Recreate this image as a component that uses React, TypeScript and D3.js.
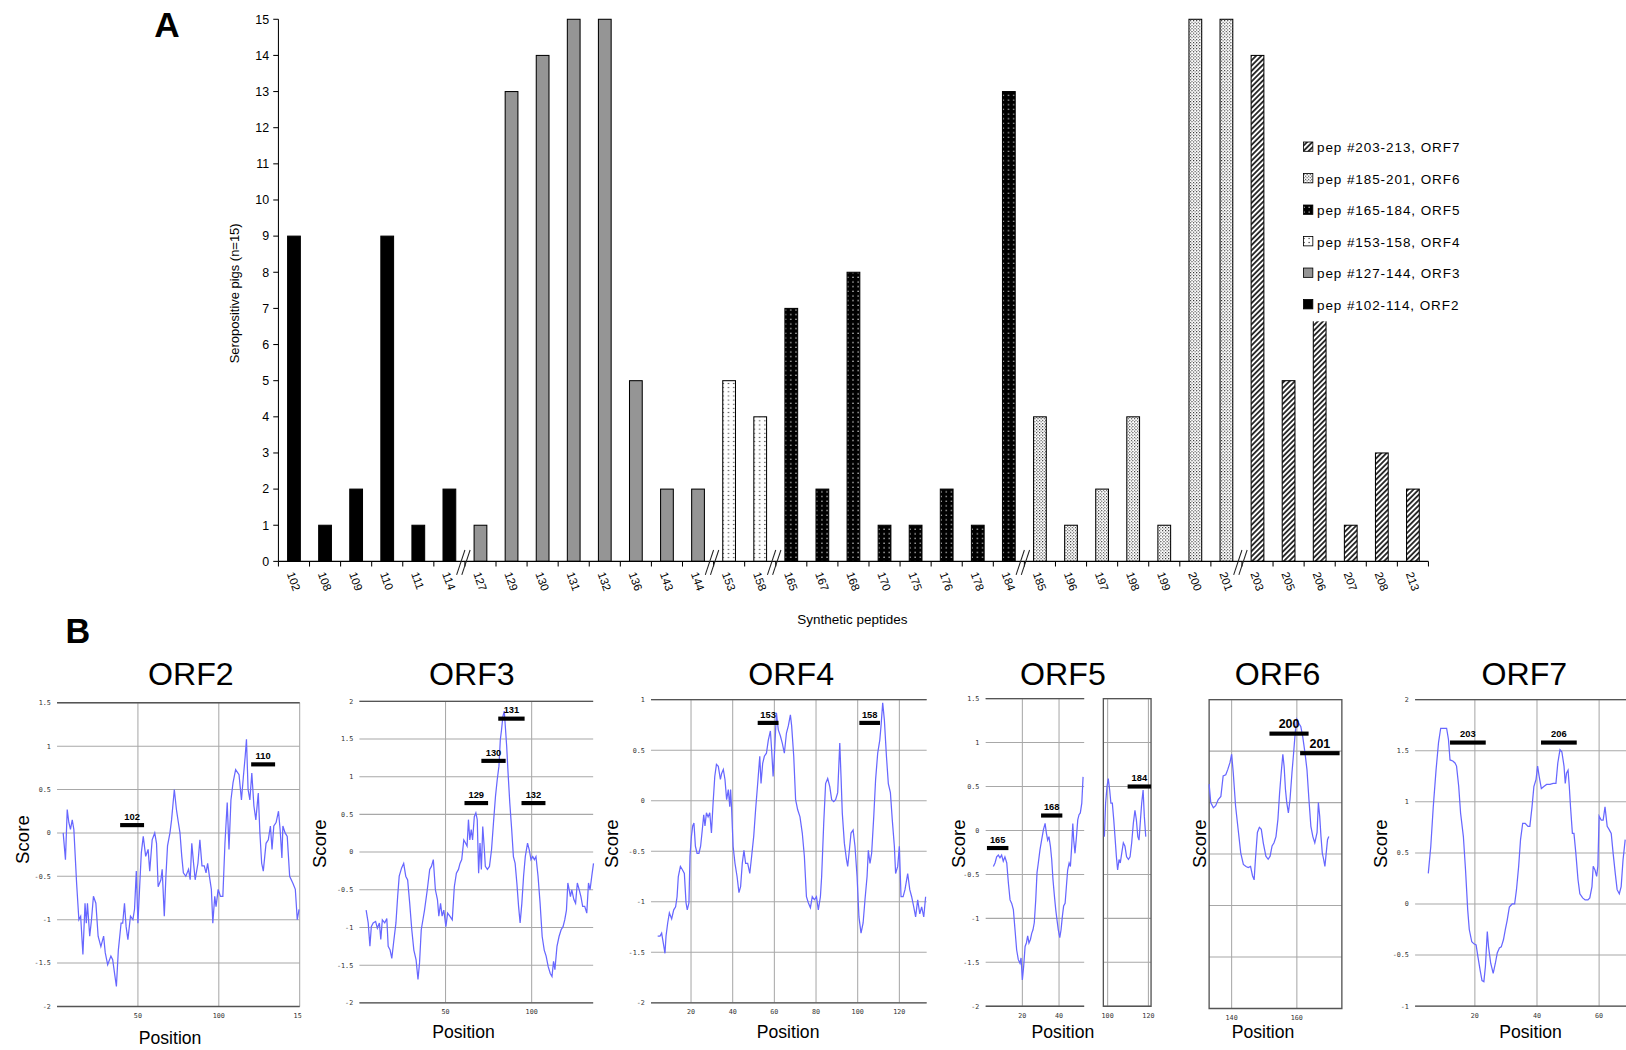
import React, { useRef, useEffect } from "react";
import * as d3 from "d3";

// ---- panel A: seropositive pigs per synthetic peptide ----
const peptides = [
  "102", "108", "109", "110", "111", "114", "127", "129", "130", "131", "132",
  "136", "143", "144", "153", "158", "165", "167", "168", "170", "175", "176",
  "178", "184", "185", "196", "197", "198", "199", "200", "201", "203", "205",
  "206", "207", "208", "213",
];
const seropositive = [
  9, 1, 2, 9, 1, 2, 1, 13, 14, 15, 15, 5, 2, 2, 5, 4, 7, 2, 8, 1, 1, 2, 1, 13,
  4, 1, 2, 4, 1, 15, 15, 14, 5, 7, 1, 3, 2,
];

const orfNames = ["ORF2", "ORF3", "ORF4", "ORF5", "ORF6", "ORF7"];
const orfFirstPep = [102, 127, 153, 165, 185, 203];
const orfLastPep = [114, 144, 158, 184, 201, 213];
const yTicksA = d3.range(0, 16);

// ---- panel B: antigenicity profiles, [position, score] ----
const orf2Profile: [number, number][] = [
  [3.8, 0], [5.2, -0.31], [6.3, 0.27], [7.3, 0.12], [8.3, 0.04], [9.4, 0.15],
  [10.4, 0.04], [12.1, -0.58], [13.5, -1.0], [14.6, -0.96], [16.0, -1.4],
  [17.3, -0.81], [18.1, -1.04], [18.8, -0.81], [20.2, -1.19], [21.3, -1.0],
  [22.5, -0.73], [24.0, -0.81], [25.4, -1.19], [27.1, -1.31], [28.8, -1.19],
  [29.8, -1.38], [31.3, -1.52], [33.3, -1.42], [34.4, -1.46], [35.8, -1.65],
  [36.7, -1.77], [37.9, -1.35], [39.6, -1.04], [40.6, -1.04], [41.7, -0.81],
  [42.7, -1.08], [43.8, -1.23], [45.4, -0.96], [46.9, -1.0], [47.9, -0.88],
  [49.0, -0.44], [50.0, -1.04], [51.0, -0.65], [52.1, -0.23], [53.3, -0.04],
  [54.8, -0.27], [56.3, -0.19], [57.3, -0.44], [58.8, -0.08], [60.4, 0],
  [61.5, -0.12], [62.5, -0.62], [64.2, -0.54], [65.0, -0.42], [66.3, -0.96],
  [67.3, -0.5], [68.3, -0.15], [69.8, 0], [70.8, 0.15], [72.5, 0.5],
  [73.8, 0.27], [75.0, 0.12], [76.0, 0], [77.1, -0.27], [78.1, -0.46],
  [79.6, -0.5], [81.3, -0.42], [82.3, -0.54], [83.3, -0.12], [84.4, -0.35],
  [85.4, -0.54], [87.1, -0.35], [88.3, -0.08], [89.6, -0.38], [91.0, -0.38],
  [92.1, -0.46], [93.1, -0.35], [94.2, -0.5], [95.4, -0.65], [96.3, -1.04],
  [97.5, -0.73], [98.3, -0.85], [99.6, -0.65], [101.0, -0.73], [102.5, -0.73],
  [103.8, -0.12], [105.2, 0.35], [106.3, -0.19], [107.5, 0.38], [108.8, 0.58],
  [110.4, 0.73], [112.5, 0.67], [114.0, 0.38], [115.2, 0.65], [116.3, 0.88],
  [117.1, 1.08], [118.1, 0.5], [119.2, 0.38], [120.4, 0.69], [121.7, 0.31],
  [122.9, 0.15], [124.4, 0.46], [125.4, 0], [126.5, -0.35], [127.5, -0.44],
  [129.2, -0.12], [130.6, -0.08], [131.9, 0.08], [132.9, -0.19], [134.0, 0.08],
  [135.4, 0.12], [136.9, 0.25], [137.9, 0.04], [139.0, -0.29], [139.6, 0.08],
  [141.0, 0], [142.3, -0.04], [143.8, -0.5], [145.8, -0.58], [147.3, -0.65],
  [148.5, -1.0], [149.6, -0.88],
];

const orf3Profile: [number, number][] = [
  [3.9, -0.77], [5.1, -0.94], [6.1, -1.25], [6.9, -0.99], [8.0, -0.94],
  [9.4, -0.92], [10.4, -1.01], [11.6, -0.94], [12.4, -1.16], [13.3, -0.9],
  [14.7, -0.94], [15.9, -0.88], [16.7, -1.25], [17.8, -1.3], [18.8, -1.41],
  [19.8, -1.21], [21.2, -0.94], [22.2, -0.59], [23.1, -0.32], [24.5, -0.21],
  [25.7, -0.15], [26.9, -0.32], [28.0, -0.37], [29.2, -0.68], [30.4, -1.03],
  [31.6, -1.3], [32.9, -1.43], [34.0, -1.69], [34.9, -1.47], [35.9, -1.03],
  [37.8, -0.77], [39.4, -0.5], [40.8, -0.23], [41.8, -0.19], [42.9, -0.1],
  [44.1, -0.5], [45.3, -0.63], [46.1, -0.85], [47.1, -0.68], [48.0, -0.85],
  [49.0, -0.77], [50.2, -0.99], [51.2, -0.81], [52.5, -0.85], [53.9, -0.9],
  [55.1, -0.46], [56.3, -0.28], [57.5, -0.23], [58.4, -0.15], [59.4, -0.1],
  [60.6, 0.16], [61.6, 0.12], [62.5, 0.08], [63.3, 0.43], [64.1, 0.16],
  [64.9, 0.3], [65.7, 0.16], [66.7, 0.47], [67.6, 0.52], [68.4, 0.43],
  [69.2, -0.28], [70.0, 0.12], [70.8, -0.23], [71.6, 0.34], [72.4, 0.08],
  [73.1, -0.19], [74.3, -0.23], [75.5, -0.19], [76.7, 0.03], [77.8, 0.38],
  [79.0, 0.74], [80.0, 0.96], [81.0, 1.14], [81.8, 1.49], [82.5, 1.62],
  [83.3, 1.8], [84.1, 1.87], [84.7, 1.67], [85.5, 1.4], [86.3, 1.05],
  [87.3, 0.65], [88.4, 0.3], [89.4, -0.06], [90.4, -0.15], [91.4, -0.41],
  [92.4, -0.72], [93.3, -0.94], [94.3, -0.68], [95.3, -0.32], [96.3, -0.06],
  [97.6, 0.12], [98.6, 0.03], [99.6, -0.1], [100.6, -0.06], [101.6, -0.1],
  [102.5, -0.06], [103.7, -0.32], [104.9, -0.68], [106.1, -1.12], [107.3, -1.3],
  [108.4, -1.38], [109.6, -1.52], [110.8, -1.61], [111.8, -1.65], [112.7, -1.45],
  [113.5, -1.56], [114.7, -1.25], [115.9, -1.12], [117.1, -1.03], [118.2, -0.99],
  [119.2, -0.9], [120.2, -0.77], [121.0, -0.41], [121.8, -0.5], [122.5, -0.59],
  [123.3, -0.5], [124.5, -0.63], [125.5, -0.68], [126.5, -0.41], [127.6, -0.5],
  [128.6, -0.59], [129.6, -0.72], [130.8, -0.72], [132.0, -0.81], [133.0, -0.41],
  [133.9, -0.5], [134.9, -0.32], [135.9, -0.15],
];

const orf4Profile: [number, number][] = [
  [4.0, -1.34], [5.1, -1.34], [5.9, -1.31], [6.7, -1.41], [7.5, -1.51],
  [8.0, -1.34], [8.8, -1.21], [9.6, -1.11], [10.7, -1.17], [11.7, -1.08],
  [12.6, -1.05], [13.3, -0.95], [13.9, -0.75], [14.9, -0.65], [15.8, -0.68],
  [16.8, -0.72], [17.6, -1.01], [18.2, -1.08], [19.0, -1.01], [19.5, -0.55],
  [20.2, -0.35], [20.8, -0.25], [21.4, -0.22], [22.1, -0.45], [22.9, -0.52],
  [23.8, -0.52], [24.6, -0.45], [25.4, -0.29], [26.1, -0.14], [26.7, -0.25],
  [27.4, -0.12], [28.2, -0.16], [29.0, -0.12], [29.8, -0.32], [30.6, -0.02],
  [31.4, 0.24], [32.2, 0.36], [33.1, 0.34], [34.1, 0.21], [34.7, 0.27],
  [35.5, 0.31], [36.3, 0.21], [37.1, 0.01], [37.9, 0.11], [38.6, -0.06],
  [39.0, 0.11], [39.5, -0.09], [40.2, -0.45], [41.1, -0.62], [42.1, -0.75],
  [43.0, -0.91], [43.8, -0.85], [44.6, -0.62], [45.4, -0.49], [46.2, -0.62],
  [47.2, -0.62], [48.2, -0.72], [49.1, -0.55], [50.1, -0.35], [51.0, -0.09],
  [52.0, 0.17], [53.0, 0.44], [53.6, 0.17], [54.4, 0.37], [55.2, 0.44],
  [56.2, 0.47], [57.1, 0.6], [58.1, 0.69], [58.7, 0.5], [59.4, 0.24],
  [60.0, 0.44], [61.0, 0.87], [61.9, 0.7], [62.9, 0.64], [63.8, 0.57],
  [64.8, 0.47], [65.8, 0.67], [66.7, 0.74], [67.7, 0.85], [68.3, 0.74],
  [69.3, 0.44], [70.2, 0.01], [71.2, -0.09], [72.3, -0.16], [73.4, -0.32],
  [74.4, -0.55], [75.4, -0.95], [76.3, -1.01], [77.3, -1.06], [78.2, -0.95],
  [79.2, -0.98], [80.2, -0.95], [81.1, -1.08], [82.1, -0.95], [82.7, -0.75],
  [83.7, -0.22], [84.6, 0.17], [85.6, 0.22], [86.6, 0.14], [87.5, 0.01],
  [88.5, -0.01], [89.4, 0.01], [90.4, 0.08], [91.4, 0.57], [92.0, 0.24],
  [92.6, -0.12], [93.6, -0.42], [94.6, -0.58], [95.2, -0.65], [96.0, -0.49],
  [96.8, -0.32], [97.8, -0.29], [98.7, -0.45], [99.7, -0.75], [100.6, -1.15],
  [101.6, -1.31], [102.6, -1.21], [103.5, -0.98], [104.5, -0.75], [105.1, -0.49],
  [105.9, -0.62], [106.7, -0.52], [107.7, -0.16], [108.6, 0.21], [109.6, 0.47],
  [110.6, 0.6], [111.2, 0.74], [112.0, 0.97], [112.8, 0.8], [113.8, 0.44],
  [114.7, 0.17], [115.7, 0.08], [116.6, -0.19], [117.6, -0.45], [118.2, -0.72],
  [119.2, -0.65], [120.0, -0.45], [120.8, -0.95], [121.8, -0.95], [122.7, -0.88],
  [124.0, -0.72], [125.0, -0.88], [125.9, -0.95], [126.9, -1.05], [127.8, -1.15],
  [128.8, -0.98], [129.8, -1.12], [130.7, -1.05], [131.7, -1.15], [132.6, -0.95],
];

const orf5Profile: [number, number][] = [
  [4.2, -0.41], [5.1, -0.37], [6.0, -0.3], [6.9, -0.28], [7.8, -0.31],
  [8.7, -0.28], [9.6, -0.35], [10.5, -0.3], [11.5, -0.37], [12.4, -0.6],
  [13.3, -0.79], [14.2, -0.83], [15.1, -0.9], [16.0, -1.13], [16.9, -1.36],
  [17.8, -1.47], [18.7, -1.51], [19.3, -1.45], [20.0, -1.7], [20.7, -1.55],
  [21.5, -1.32], [22.2, -1.28], [22.9, -1.2], [23.6, -1.28], [24.4, -1.24],
  [25.1, -1.17], [25.8, -1.13], [26.5, -1.05], [27.3, -0.79], [28.0, -0.48],
  [28.7, -0.37], [29.6, -0.22], [30.5, -0.11], [31.5, 0.01], [32.4, 0.08],
  [33.1, -0.03], [33.8, -0.11], [34.5, -0.07], [35.3, -0.18], [36.0, -0.33],
  [36.7, -0.56], [37.5, -0.75], [38.2, -0.9], [38.9, -1.02], [39.6, -1.13],
  [40.4, -1.22], [41.1, -1.13], [41.8, -0.98], [42.5, -0.86], [43.3, -0.83],
  [44.0, -0.64], [44.7, -0.45], [45.5, -0.37], [46.2, -0.41], [46.9, -0.18],
  [47.5, 0.08], [48.0, -0.11], [48.7, -0.26], [49.5, -0.07], [50.2, 0.12],
  [50.9, 0.18], [51.6, 0.2], [52.4, 0.31], [53.1, 0.61],
];

const orf5TailProfile: [number, number][] = [
  [98.4, -0.07], [99.0, 0.31], [99.7, 0.5], [100.3, 0.59], [101.0, 0.46],
  [101.6, 0.31], [102.3, 0.31], [103.0, 0.12], [103.6, -0.07], [104.3, -0.3],
  [104.9, -0.45], [105.6, -0.33], [106.2, -0.37], [106.9, -0.26], [107.7, -0.14],
  [108.5, -0.18], [109.3, -0.3], [110.2, -0.33], [111.0, -0.3], [111.8, -0.14],
  [112.6, 0.08], [113.4, 0.23], [114.1, 0.12], [114.8, -0.07], [115.4, -0.11],
  [116.1, 0.12], [116.7, 0.31], [117.4, 0.46], [118.0, 0.16], [118.7, -0.07],
];

const orf6Profile: [number, number][] = [
  [133.1, 0.18], [133.6, 0], [134.4, -0.05], [135.1, -0.03], [135.9, 0.03],
  [136.7, 0.06], [137.4, 0.26], [138.2, 0.27], [138.8, 0.32], [139.5, 0.39],
  [140.0, 0.47], [140.5, 0.29], [141.2, -0.03], [142.1, -0.29], [142.8, -0.49],
  [143.6, -0.6], [144.4, -0.62], [145.1, -0.63], [145.8, -0.62], [146.4, -0.71],
  [146.9, -0.75], [147.3, -0.55], [147.9, -0.29], [148.5, -0.24], [149.1, -0.26],
  [149.7, -0.39], [150.5, -0.52], [151.2, -0.55], [151.8, -0.52], [152.4, -0.42],
  [153.0, -0.39], [153.6, -0.33], [154.2, -0.16], [154.7, 0.09], [155.2, 0.29],
  [155.7, 0.47], [156.1, 0.35], [156.5, 0.13], [156.9, 0], [157.4, -0.1],
  [157.9, 0.03], [158.5, 0.29], [159.0, 0.48], [159.5, 0.68], [160.0, 0.81],
  [160.6, 0.77], [161.2, 0.74], [161.8, 0.64], [162.5, 0.48], [163.1, 0.32],
  [163.7, 0.03], [164.3, -0.23], [164.9, -0.33], [165.5, -0.39], [166.2, -0.29],
  [166.6, 0], [167.0, -0.13], [167.4, -0.33], [167.8, -0.49], [168.2, -0.55],
  [168.6, -0.62], [169.0, -0.49], [169.4, -0.36], [169.8, -0.33],
];

const orf7Profile: [number, number][] = [
  [5.0, 0.3], [5.8, 0.56], [6.6, 0.95], [7.5, 1.31], [8.3, 1.58], [9.0, 1.72],
  [9.9, 1.72], [10.9, 1.72], [11.5, 1.61], [12.0, 1.41], [12.9, 1.4],
  [13.6, 1.38], [14.1, 1.35], [14.8, 1.15], [15.4, 0.89], [16.3, 0.66],
  [17.0, 0.33], [17.7, -0.06], [18.2, -0.25], [19.0, -0.37], [19.7, -0.39],
  [20.4, -0.4], [21.0, -0.52], [21.7, -0.65], [22.3, -0.75], [22.9, -0.76],
  [23.4, -0.61], [24.0, -0.27], [24.4, -0.42], [25.1, -0.58], [25.9, -0.68],
  [26.6, -0.58], [27.2, -0.48], [27.9, -0.43], [28.5, -0.42], [29.2, -0.35],
  [29.8, -0.25], [30.4, -0.16], [31.1, -0.03], [32.0, 0], [32.8, 0],
  [33.4, 0.14], [34.1, 0.37], [34.7, 0.63], [35.4, 0.79], [36.2, 0.79],
  [37.1, 0.76], [37.7, 0.76], [38.4, 0.95], [39.0, 1.15], [39.7, 1.22],
  [40.2, 1.35], [40.7, 1.25], [41.4, 1.13], [42.2, 1.15], [43.1, 1.17],
  [44.2, 1.17], [45.2, 1.18], [46.1, 1.18], [46.7, 1.38], [47.4, 1.51],
  [48.0, 1.49], [48.7, 1.35], [49.1, 1.18], [49.5, 1.28], [50.0, 1.31],
  [50.4, 1.15], [50.8, 0.95], [51.4, 0.69], [51.9, 0.69], [52.5, 0.5],
  [53.2, 0.24], [53.8, 0.1], [54.7, 0.06], [55.5, 0.04], [56.4, 0.04],
  [57.0, 0.06], [57.7, 0.17], [58.1, 0.37], [58.7, 0.33], [59.2, 0.27],
  [59.6, 0.37], [60.0, 0.86], [60.7, 0.82], [61.3, 0.82], [61.9, 0.95],
  [62.6, 0.76], [63.2, 0.73], [63.9, 0.69], [64.5, 0.5], [65.2, 0.3],
  [65.8, 0.14], [66.5, 0.1], [67.1, 0.17], [67.7, 0.43], [68.4, 0.63],
];

// peptide positions marked on the profiles
const orf2Peptides = [
  { label: "102", from: 39, to: 53.8, score: 0.09 },
  { label: "110", from: 120, to: 134.8, score: 0.79 },
];
const orf3Peptides = [
  { label: "129", from: 61, to: 74.7, score: 0.65 },
  { label: "130", from: 70.8, to: 84.9, score: 1.21 },
  { label: "131", from: 80.6, to: 95.9, score: 1.77 },
  { label: "132", from: 94.1, to: 108, score: 0.65 },
];
const orf4Peptides = [
  { label: "153", from: 52, to: 62, score: 0.77 },
  { label: "158", from: 100.8, to: 110.7, score: 0.77 },
];
const orf5Peptides = [
  { label: "165", from: 0.7, to: 12.4, score: -0.2 },
  { label: "168", from: 30.2, to: 41.8, score: 0.17 },
];
const orf5TailPeptides = [{ label: "184", from: 109.8, to: 121.3, score: 0.5 }];
const orf6Peptides = [
  { label: "200", from: 151.6, to: 163.6, score: 0.67 },
  { label: "201", from: 161, to: 173.1, score: 0.48 },
];
const orf7Peptides = [
  { label: "203", from: 12, to: 23.5, score: 1.58 },
  { label: "206", from: 41.3, to: 52.8, score: 1.58 },
];

const panels = [
  { title: "ORF2", titleX: 184, scoreX: 22, posX: 164, posY: 1001, left: 55, right: 289, top: 678, bottom: 971, xDomain: [0, 150], yDomain: [-2, 1.5], xTicks: [50, 100, 150], yLabels: true, rightBorder: false, clipRight: 291, profile: orf2Profile, marks: orf2Peptides, markFont: 9 },
  { title: "ORF3", titleX: 455, scoreX: 308, posX: 447, posY: 995, left: 346.6, right: 572, top: 676.6, bottom: 967.5, xDomain: [0, 135.7], yDomain: [-2, 2], xTicks: [50, 100], yLabels: true, rightBorder: false, clipRight: 574, profile: orf3Profile, marks: orf3Peptides, markFont: 9 },
  { title: "ORF4", titleX: 763, scoreX: 590, posX: 760, posY: 995, left: 627.8, right: 893.6, top: 675, bottom: 967.5, xDomain: [0.8, 133.1], yDomain: [-2, 1], xTicks: [20, 40, 60, 80, 100, 120], yLabels: true, rightBorder: false, clipRight: 896, profile: orf4Profile, marks: orf4Peptides, markFont: 9 },
  { title: "ORF5", titleX: 1025, scoreX: 925, posX: 1025, posY: 995, left: 950.5, right: 1045.5, top: 674, bottom: 970.8, xDomain: [0, 53.7], yDomain: [-2, 1.5], xTicks: [20, 40], yLabels: true, rightBorder: false, clipRight: 1047, profile: orf5Profile, marks: orf5Peptides, markFont: 9 },
  { title: "", titleX: 0, scoreX: 0, posX: 0, posY: 0, left: 1064, right: 1110, top: 674, bottom: 970.8, xDomain: [97.9, 121.3], yDomain: [-2, 1.5], xTicks: [100, 120], yLabels: false, rightBorder: true, clipRight: 1116, profile: orf5TailProfile, marks: orf5TailPeptides, markFont: 9 },
  { title: "ORF6", titleX: 1232, scoreX: 1157, posX: 1218, posY: 995, left: 1166, right: 1294, top: 675, bottom: 973, xDomain: [133.1, 173.8], yDomain: [-2, 1], xTicks: [140, 160], yLabels: false, rightBorder: true, clipRight: 1300, profile: orf6Profile, marks: orf6Peptides, markFont: 12 },
  { title: "ORF7", titleX: 1470, scoreX: 1332, posX: 1476, posY: 995, left: 1364.6, right: 1587, top: 675, bottom: 970.7, xDomain: [0.75, 75], yDomain: [-1, 2], xTicks: [20, 40, 60], yLabels: true, rightBorder: false, clipRight: 1600, profile: orf7Profile, marks: orf7Peptides, markFont: 9 },
];

const font = "Arial, 'Liberation Sans', sans-serif";

export default function App() {
  const svgRef = useRef<SVGSVGElement>(null);

  useEffect(() => {
    if (!svgRef.current) return;
    const svg = d3.select(svgRef.current);
    svg.selectAll("*").remove();
    svg.append("rect").attr("width", 1568).attr("height", 1013).attr("fill", "#fff");

    const defs = svg.append("defs");
    const pattern = (id: string, w: number, h: number, bg: string) => {
      const p = defs
        .append("pattern")
        .attr("id", id)
        .attr("patternUnits", "userSpaceOnUse")
        .attr("width", w)
        .attr("height", h);
      p.append("rect").attr("width", w).attr("height", h).attr("fill", bg);
      return p;
    };
    const p4 = pattern("pat-ORF4", 5, 4, "#fff");
    p4.append("rect").attr("x", 2).attr("y", 1.5).attr("width", 1).attr("height", 1).attr("fill", "#000");
    const p5 = pattern("pat-ORF5", 5, 4.5, "#000");
    p5.append("rect").attr("x", 2).attr("y", 1.5).attr("width", 1.1).attr("height", 1.1).attr("fill", "#fff");
    const p6 = pattern("pat-ORF6", 3, 3, "#fff");
    p6.append("rect").attr("x", 0).attr("y", 0).attr("width", 1).attr("height", 1).attr("fill", "#222");
    p6.append("rect").attr("x", 1.5).attr("y", 1.5).attr("width", 1).attr("height", 1).attr("fill", "#222");
    const p7 = pattern("pat-ORF7", 3.6, 3.6, "#fff").attr("patternTransform", "rotate(45)");
    p7.append("line").attr("x1", 1.8).attr("x2", 1.8).attr("y1", 0).attr("y2", 3.6).attr("stroke", "#000").attr("stroke-width", 1.5);

    const orfFill: Record<string, string> = {
      ORF2: "#000",
      ORF3: "#959595",
      ORF4: "url(#pat-ORF4)",
      ORF5: "url(#pat-ORF5)",
      ORF6: "url(#pat-ORF6)",
      ORF7: "url(#pat-ORF7)",
    };
    const orfOf = (pep: string) => {
      const n = +pep;
      const i = orfFirstPep.findIndex((f, k) => n >= f && n <= orfLastPep[k]);
      return orfNames[i];
    };

    // ---------- A ----------
    const x = d3
      .scaleBand<string>()
      .domain(peptides)
      .range([268.5, 1377.5])
      .paddingInner(0.59)
      .paddingOuter(0.295);
    const y = d3.scaleLinear().domain([0, 15]).range([541.6, 18.6]);
    const x0 = 268.5;
    const step = x.step();

    const gA = svg.append("g");
    gA.append("text")
      .attr("x", 161)
      .attr("y", 36)
      .attr("text-anchor", "middle")
      .attr("font-family", font)
      .attr("font-weight", "bold")
      .attr("font-size", 34)
      .text("A");

    gA.selectAll(".bar")
      .data(peptides)
      .enter()
      .append("rect")
      .attr("x", (d) => x(d) as number)
      .attr("width", x.bandwidth())
      .attr("y", (d, i) => y(seropositive[i]))
      .attr("height", (d, i) => y(0) - y(seropositive[i]))
      .attr("fill", (d) => orfFill[orfOf(d)])
      .attr("stroke", "#000")
      .attr("stroke-width", 1);

    // axes
    gA.append("line").attr("x1", x0).attr("x2", x0).attr("y1", y(0)).attr("y2", y(15)).attr("stroke", "#000");
    gA.append("line").attr("x1", x0).attr("x2", x0 + step * peptides.length).attr("y1", y(0)).attr("y2", y(0)).attr("stroke", "#000");
    yTicksA.forEach((t) => {
      gA.append("line").attr("x1", x0 - 5).attr("x2", x0).attr("y1", y(t)).attr("y2", y(t)).attr("stroke", "#000");
      gA.append("text")
        .attr("x", x0 - 9)
        .attr("y", y(t))
        .attr("dy", "0.35em")
        .attr("text-anchor", "end")
        .attr("font-family", font)
        .attr("font-size", 12)
        .text(t);
    });
    d3.range(peptides.length + 1).forEach((i) => {
      gA.append("line")
        .attr("x1", x0 + i * step)
        .attr("x2", x0 + i * step)
        .attr("y1", y(0))
        .attr("y2", y(0) + 5)
        .attr("stroke", "#000");
    });
    peptides.forEach((p) => {
      const cx = (x(p) as number) + x.bandwidth() / 2;
      gA.append("text")
        .attr("transform", `translate(${cx - 7},${y(0) + 12}) rotate(70)`)
        .attr("font-family", font)
        .attr("font-size", 11)
        .text(p);
    });
    // axis breaks between ORFs
    peptides.forEach((p, i) => {
      if (i === 0 || orfOf(p) === orfOf(peptides[i - 1])) return;
      const bx = x0 + i * step;
      [-4, 1].forEach((o) => {
        gA.append("line")
          .attr("x1", bx + o - 4)
          .attr("y1", y(0) + 13)
          .attr("x2", bx + o + 4)
          .attr("y2", y(0) - 11)
          .attr("stroke", "#222")
          .attr("stroke-width", 1);
      });
    });

    gA.append("text")
      .attr("transform", `translate(230,283) rotate(-90)`)
      .attr("text-anchor", "middle")
      .attr("font-family", font)
      .attr("font-size", 12.5)
      .text("Seropositive pigs (n=15)");
    gA.append("text")
      .attr("x", 822)
      .attr("y", 602)
      .attr("text-anchor", "middle")
      .attr("font-family", font)
      .attr("font-size", 13)
      .text("Synthetic peptides");

    // legend
    const lg = gA.append("g");
    lg.append("rect").attr("x", 1249).attr("y", 122).attr("width", 178).attr("height", 188).attr("fill", "#fff");
    const legendOrder = orfNames.slice().reverse();
    legendOrder.forEach((name, i) => {
      const k = orfNames.indexOf(name);
      const ly = 142 + i * 30.4;
      lg.append("rect")
        .attr("x", 1257)
        .attr("y", ly - 5)
        .attr("width", 9)
        .attr("height", 9)
        .attr("fill", orfFill[name])
        .attr("stroke", "#000")
        .attr("stroke-width", 0.8);
      lg.append("text")
        .attr("x", 1270)
        .attr("y", ly)
        .attr("dy", "0.38em")
        .attr("font-family", font)
        .attr("font-size", 13)
        .attr("letter-spacing", 0.9)
        .text(`pep #${orfFirstPep[k]}-${orfLastPep[k]}, ${name}`);
    });

    // ---------- B ----------
    svg.append("text")
      .attr("x", 75)
      .attr("y", 620)
      .attr("text-anchor", "middle")
      .attr("font-family", font)
      .attr("font-weight", "bold")
      .attr("font-size", 33)
      .text("B");

    panels.forEach((p, idx) => {
      const clipId = `clip-panel-${idx}`;
      defs.append("clipPath")
        .attr("id", clipId)
        .append("rect")
        .attr("x", p.left - 40)
        .attr("y", p.top - 30)
        .attr("width", p.clipRight - p.left + 40)
        .attr("height", p.bottom - p.top + 50);
      const g = svg.append("g").attr("clip-path", `url(#${clipId})`);
      const xs = d3.scaleLinear().domain(p.xDomain).range([p.left, p.right]);
      const ys = d3.scaleLinear().domain(p.yDomain).range([p.bottom, p.top]);
      const yTicks = d3.range(p.yDomain[0], p.yDomain[1] + 0.01, 0.5);

      // grid
      yTicks.forEach((t) => {
        g.append("line")
          .attr("x1", p.left)
          .attr("x2", p.right)
          .attr("y1", ys(t))
          .attr("y2", ys(t))
          .attr("stroke", "#a8a8a8")
          .attr("stroke-width", 1);
        if (p.yLabels) {
          g.append("text")
            .attr("x", p.left - 6)
            .attr("y", ys(t))
            .attr("dy", "0.35em")
            .attr("text-anchor", "end")
            .attr("font-family", "'DejaVu Sans Mono', monospace")
            .attr("font-size", 6.5)
            .attr("fill", "#333")
            .text(String(t));
        }
      });
      p.xTicks.forEach((t) => {
        g.append("line")
          .attr("x1", xs(t))
          .attr("x2", xs(t))
          .attr("y1", p.top)
          .attr("y2", p.bottom)
          .attr("stroke", "#a8a8a8")
          .attr("stroke-width", 1);
        g.append("text")
          .attr("x", xs(t))
          .attr("y", p.bottom + 11)
          .attr("text-anchor", "middle")
          .attr("font-family", "'DejaVu Sans Mono', monospace")
          .attr("font-size", 6.5)
          .attr("fill", "#333")
          .text(String(t));
      });

      // frame
      const frame = d3.path();
      frame.moveTo(p.left, p.top);
      frame.lineTo(p.right, p.top);
      if (p.rightBorder) frame.lineTo(p.right, p.bottom);
      else frame.moveTo(p.right, p.bottom);
      frame.lineTo(p.left, p.bottom);
      frame.closePath();
      g.append("path").attr("d", frame.toString()).attr("fill", "none").attr("stroke", "#555").attr("stroke-width", 1.3);

      // profile
      const line = d3
        .line<[number, number]>()
        .x((d) => xs(d[0]))
        .y((d) => ys(d[1]));
      g.append("path")
        .datum(p.profile)
        .attr("d", line)
        .attr("fill", "none")
        .attr("stroke", "#6767ff")
        .attr("stroke-width", 1.2);

      // peptide marks
      p.marks.forEach((m) => {
        g.append("rect")
          .attr("x", xs(m.from))
          .attr("y", ys(m.score) - 2)
          .attr("width", xs(m.to) - xs(m.from))
          .attr("height", 4)
          .attr("fill", "#000");
        g.append("text")
          .attr("x", (xs(m.from) + xs(m.to)) / 2)
          .attr("y", ys(m.score) - 5)
          .attr("text-anchor", "middle")
          .attr("font-family", font)
          .attr("font-weight", "bold")
          .attr("font-size", p.markFont)
          .text(m.label);
      });

      if (p.title) {
        svg.append("text")
          .attr("x", p.titleX)
          .attr("y", 661)
          .attr("text-anchor", "middle")
          .attr("font-family", font)
          .attr("font-size", 31)
          .text(p.title);
        svg.append("text")
          .attr("transform", `translate(${p.scoreX + 6},${idx === 0 ? 810 : 814}) rotate(-90)`)
          .attr("text-anchor", "middle")
          .attr("font-family", font)
          .attr("font-size", 18)
          .text("Score");
        svg.append("text")
          .attr("x", p.posX)
          .attr("y", p.posY + 6)
          .attr("text-anchor", "middle")
          .attr("font-family", font)
          .attr("font-size", 17)
          .text("Position");
      }
    });
  }, []);

  return (
    <svg
      ref={svgRef}
      width={1626}
      height={1050}
      viewBox="0 0 1568 1013"
      preserveAspectRatio="none"
      style={{ position: "absolute", left: 0, top: 0, display: "block" }}
    />
  );
}
